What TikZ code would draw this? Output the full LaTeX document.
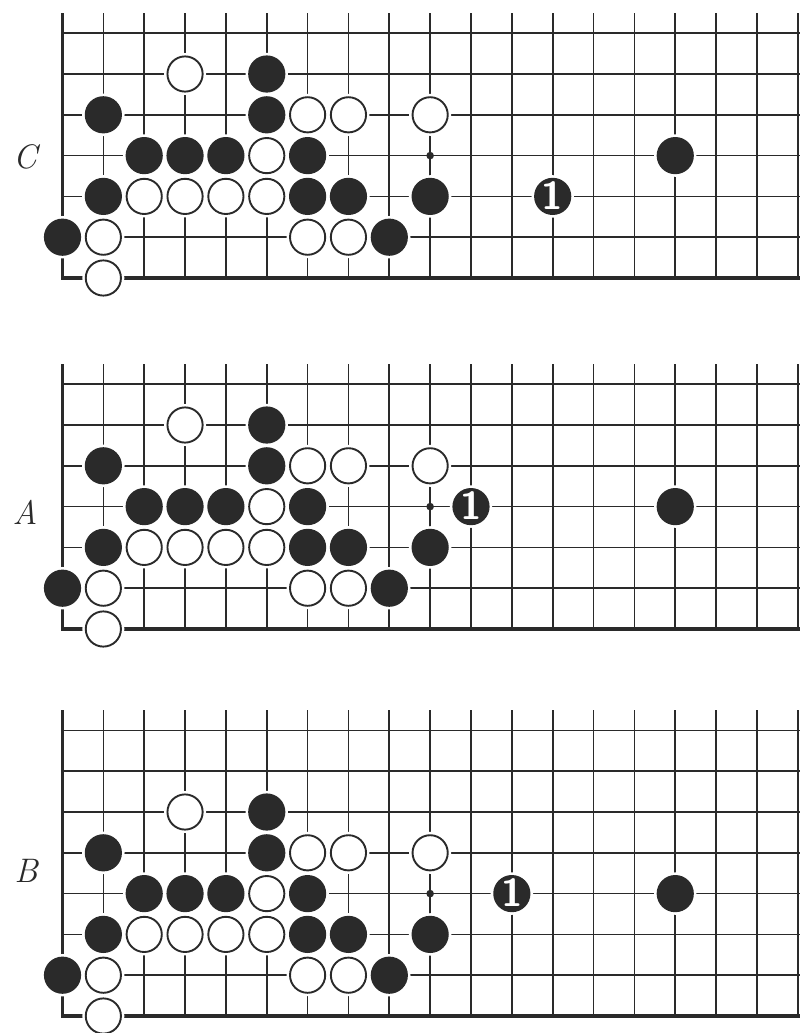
\documentclass[tikz,border=0pt]{standalone}
\usepackage{fontspec}
\definecolor{ink}{HTML}{2A2A2A}
\tikzset{
  gridline/.style={draw=ink, line width=0.85pt},
  edgeline/.style={draw=ink, line width=1.6pt, line join=miter},
  bstone/.style={circle, inner sep=0pt, minimum size=18.6pt, fill=ink,
    preaction={draw=white, line width=2.6pt}},
  wstone/.style={circle, inner sep=0pt, minimum size=17.6pt, fill=white,
    draw=ink, line width=0.95pt, preaction={draw=white, line width=3.4pt}},
  hoshi/.style={circle, inner sep=0pt, minimum size=3.8pt, fill=ink},
  numstone/.style={bstone, text=white, text height=13pt, text depth=0pt,
    font=\sffamily\bfseries\fontsize{19.5}{19.5}\selectfont},
  lbl/.style={font=\itshape\fontsize{17}{17}\selectfont, text=ink}
}
\newcommand{\goboard}[5]{%
  % #1 prefix, #2 bottom y, #3 rows, #4 col of 1, #5 row of 1
  \pgfmathsetmacro\topy{#2-(#3-1)*40.8-20}
  \foreach \c in {2,...,19}{
    \draw[gridline] ({62.5+(\c-1)*40.85},\topy) -- ({62.5+(\c-1)*40.85},#2);
  }
  \foreach \r in {2,...,#3}{
    \draw[gridline] (62.5,{#2-(\r-1)*40.8}) -- (800,{#2-(\r-1)*40.8});
  }
  \draw[edgeline] (62.5,\topy) -- (62.5,#2) -- (800,#2);
  \node[hoshi] (#1-hoshi) at ({62.5+9*40.85},{#2-3*40.8}) {};
  \foreach \c/\r [count=\i] in {4/6,7/5,8/5,10/5,6/4,3/3,4/3,5/3,6/3,2/2,7/2,8/2,2/1}{
    \node[wstone] (#1-w\i) at ({62.5+(\c-1)*40.85},{#2-(\r-1)*40.8}) {};
  }
  \foreach \c/\r [count=\i] in {6/6,2/5,6/5,3/4,4/4,5/4,7/4,2/3,7/3,8/3,10/3,1/2,9/2,16/4}{
    \node[bstone] (#1-b\i) at ({62.5+(\c-1)*40.85},{#2-(\r-1)*40.8}) {};
  }
  \node[numstone] (#1-one) at ({62.5+(#4-1)*40.85},{#2-(#5-1)*40.8}) {1};
}
\begin{document}
\begin{tikzpicture}[x=0.5pt, y=-0.5pt]
  \useasboundingbox[fill=white] (0,0) rectangle (800,1033);
  \goboard{C}{278}{7}{13}{3}
  \goboard{A}{629}{7}{11}{4}
  \goboard{B}{1016}{8}{12}{4}
  \node[lbl] (labelC) at (25,157) {C};
  \node[lbl] (labelA) at (25,512) {A};
  \node[lbl] (labelB) at (26,871) {B};
\end{tikzpicture}
\end{document}
